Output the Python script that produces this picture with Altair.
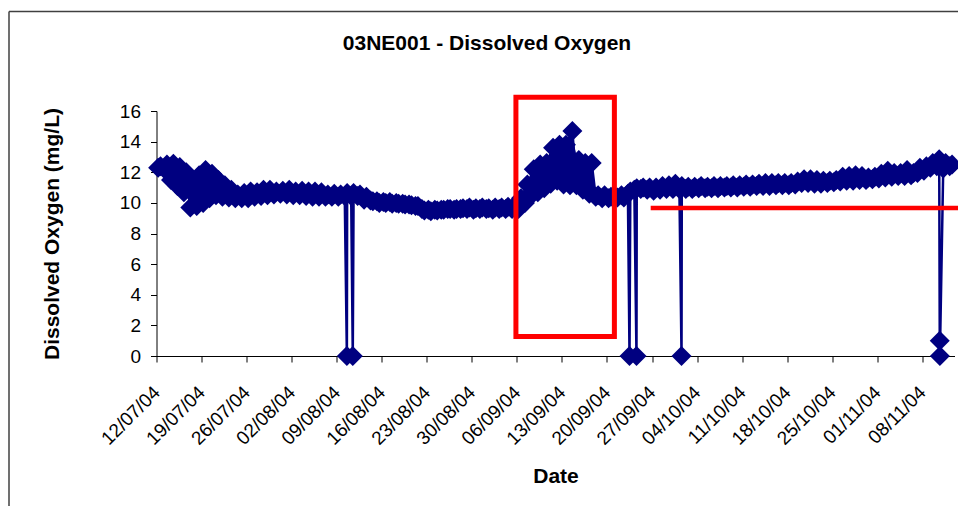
import altair as alt
import pandas as pd
from datetime import datetime, timedelta

# ---- data ----
start_date = "2004-07-12"
# daily high (afternoon) and low (early morning) dissolved oxygen, mg/L, 12/07/04 .. 12/11/04
day_max = [12.4, 12.5, 12.55, 12.35, 12.0, 11.5, 11.8, 12.15, 11.9, 11.5,
           11.15, 10.85, 10.55, 10.65, 10.75, 10.7, 10.85, 10.85, 10.75, 10.8,
           10.85, 10.75, 10.8, 10.75, 10.75, 10.7, 10.55, 10.6, 10.55, 10.65,
           10.65, 10.55, 10.4, 10.1, 10.0, 10.0, 9.95, 9.95, 9.9, 9.85,
           9.8, 9.5, 9.45, 9.5, 9.55, 9.6, 9.6, 9.65, 9.7, 9.65,
           9.7, 9.65, 9.7, 9.7, 9.75, 9.8, 10.3, 11.2, 12.2, 12.5,
           12.6, 13.6, 13.8, 13.8, 14.7, 12.8, 12.6, 12.6, 10.5, 10.5,
           10.4, 10.35, 10.35, 10.75, 10.95, 11.0, 11.0, 11.0, 11.1, 11.15,
           11.25, 11.1, 11.05, 11.05, 11.1, 11.05, 11.1, 11.1, 11.1, 11.15,
           11.15, 11.2, 11.2, 11.25, 11.3, 11.3, 11.3, 11.3, 11.3, 11.4,
           11.55, 11.55, 11.5, 11.45, 11.45, 11.5, 11.7, 11.75, 11.8, 11.75,
           11.65, 11.7, 11.9, 12.1, 11.95, 11.95, 12.15, 11.95, 12.3, 12.4,
           12.6, 12.85, 12.6, 12.5]
day_min = [12.3, 12.2, 11.5, 11.1, 10.7, 9.7, 9.8, 10.0, 10.3, 10.5,
           10.4, 10.35, 10.3, 10.3, 10.3, 10.4, 10.45, 10.5, 10.55, 10.6,
           10.55, 10.5, 10.5, 10.45, 10.4, 10.4, 10.4, 10.4, 10.4, 10.45,
           10.45, 10.45, 10.2, 10.15, 10.1, 10.05, 10.05, 10.0, 9.95, 9.9,
           9.8, 9.6, 9.55, 9.55, 9.55, 9.6, 9.55, 9.6, 9.6, 9.55,
           9.6, 9.6, 9.55, 9.6, 9.6, 9.6, 9.6, 10.0, 10.5, 10.7,
           10.95, 11.25, 11.45, 11.2, 11.15, 11.15, 10.85, 10.6, 10.4, 10.3,
           10.3, 10.4, 10.5, 10.6, 10.85, 10.9, 10.85, 10.8, 10.85, 10.9,
           10.9, 10.9, 10.9, 10.9, 10.95, 10.95, 10.95, 10.95, 11.0, 11.0,
           11.0, 11.05, 11.05, 11.1, 11.1, 11.1, 11.15, 11.15, 11.15, 11.2,
           11.3, 11.3, 11.25, 11.25, 11.3, 11.35, 11.4, 11.45, 11.45, 11.5,
           11.5, 11.55, 11.6, 11.65, 11.7, 11.75, 11.75, 11.8, 11.95, 12.1,
           12.3, 12.4, 12.25, 12.4]
# sensor drop-outs
drop_times = ["2004-08-10T14:00:00", "2004-08-11T12:00:00", "2004-09-23T12:00:00",
              "2004-09-24T14:00:00", "2004-10-01T14:00:00", "2004-11-10T17:00:00",
              "2004-11-10T17:30:00"]
drop_values = [0, 0, 0, 0, 0, 1, 0]

tick_labels = ["12/07/04", "19/07/04", "26/07/04", "02/08/04", "09/08/04", "16/08/04",
               "23/08/04", "30/08/04", "06/09/04", "13/09/04", "20/09/04", "27/09/04",
               "04/10/04", "11/10/04", "18/10/04", "25/10/04", "01/11/04", "08/11/04"]
y_ticks = [0, 2, 4, 6, 8, 10, 12, 14, 16]
x_domain = [(2004, 7, 12), (2004, 11, 13)]
y_domain = [0, 16]

# red annotations
box_x = ["2004-09-05T20:24:00", "2004-09-21T03:36:00"]
box_y = [16.9, 1.27]
hline_x = ["2004-09-26T19:00:00", "2004-11-16T00:00:00"]
hline_y = 9.67

title_text = "03NE001 - Dissolved Oxygen"
x_title = "Date"
y_title = "Dissolved Oxygen (mg/L)"

# ---- build tables ----
base = datetime.strptime(start_date, "%Y-%m-%d")
fmt = "%Y-%m-%dT%H:%M:%S"
rows = []
band = []
for d, (lo, hi) in enumerate(zip(day_min, day_max)):
    rows.append({"t": (base + timedelta(days=d, hours=6)).strftime(fmt), "v": lo})
    rows.append({"t": (base + timedelta(days=d, hours=15)).strftime(fmt), "v": hi})
    band.append({"t": (base + timedelta(days=d, hours=10)).strftime(fmt), "v": lo, "hi": hi})
for t, v in zip(drop_times, drop_values):
    rows.append({"t": t, "v": v})
df = pd.DataFrame(rows).sort_values("t").reset_index(drop=True)
band_df = pd.DataFrame(band)

box_df = pd.DataFrame({"t": [box_x[0]], "x2": [box_x[1]], "v": [box_y[0]], "y2": [box_y[1]]})
hline_df = pd.DataFrame({"t": [hline_x[0]], "x2": [hline_x[1]], "v": [hline_y]})
one = pd.DataFrame({"a": [0]})

tick_dt = []
for lab in tick_labels:
    dd, mm, yy = lab.split("/")
    tick_dt.append(alt.DateTime(year=2000 + int(yy), month=int(mm), date=int(dd)))
dom = [alt.DateTime(year=y, month=m, date=d) for (y, m, d) in x_domain]

W, H = 798, 245
PAD = {"left": 148.5, "top": 103, "right": 3.5, "bottom": 150}
NAVY = "#000080"
FONT = "Liberation Sans"

x_axis = alt.Axis(values=tick_dt, format="%d/%m/%y", labelAngle=315,
                  labelAlign="right", labelBaseline="middle", labelPadding=27,
                  labelOverlap=False, labelFontSize=19, labelColor="#000",
                  tickSize=6, tickColor="#000", domainColor="#000", grid=False,
                  title=x_title, titleFontSize=21, titleFontWeight="bold",
                  titleColor="#000", titleY=126, titleBaseline="alphabetic")
y_axis = alt.Axis(values=y_ticks, labelFontSize=19, labelColor="#000",
                  labelPadding=10, labelOverlap=False, tickSize=6,
                  tickColor="#000", domainColor="#000", grid=False,
                  title=y_title, titleFontSize=21, titleFontWeight="bold",
                  titleColor="#000", titleX=-98.5, titleY=H / 2,
                  titleAngle=270, titleBaseline="alphabetic",
                  titleAlign="center")
x_enc = alt.X("t:T", scale=alt.Scale(domain=dom), axis=x_axis)
y_enc = alt.Y("v:Q", scale=alt.Scale(domain=y_domain), axis=y_axis)

area = alt.Chart(band_df).mark_area(color=NAVY, opacity=1).encode(
    x=x_enc, y=y_enc, y2="hi:Q")
line = alt.Chart(df).mark_line(color=NAVY, strokeWidth=2.5).encode(x=x_enc, y=y_enc)
pts = alt.Chart(df).mark_point(shape="diamond", filled=True, size=400, color=NAVY,
                               opacity=1).encode(x=x_enc, y=y_enc)

box = alt.Chart(box_df).mark_rect(fillOpacity=0, stroke="#ff0000", strokeWidth=5).encode(
    x=x_enc, x2="x2:T", y=y_enc, y2="y2:Q")
hline = alt.Chart(hline_df).mark_rule(color="#ff0000", strokeWidth=4.5).encode(
    x=x_enc, x2="x2:T", y=y_enc)

frame_top = alt.Chart(one).mark_rule(color="#404040", strokeWidth=1.5).encode(
    x=alt.value(-147.5), x2=alt.value(W + 10), y=alt.value(-99.5))
frame_left = alt.Chart(one).mark_rule(color="#404040", strokeWidth=1.5).encode(
    x=alt.value(-147.5), y=alt.value(-99.5), y2=alt.value(H + 200))
title = alt.Chart(one).mark_text(fontSize=21, fontWeight="bold", color="#000",
                                 align="center", baseline="alphabetic", font=FONT).encode(
    x=alt.value(330.5), y=alt.value(-61), text=alt.value(title_text))

chart = alt.layer(line, area, pts, box, hline, frame_top, frame_left, title).properties(
    width=W, height=H,
    autosize=alt.AutoSizeParams(type="none"),
    padding=PAD,
).configure(font=FONT).configure_view(strokeWidth=0).configure_axis(
    labelFont=FONT, titleFont=FONT, labelOverlap=False)

chart.save("out.html", embed_options={"renderer": "svg", "actions": False})
